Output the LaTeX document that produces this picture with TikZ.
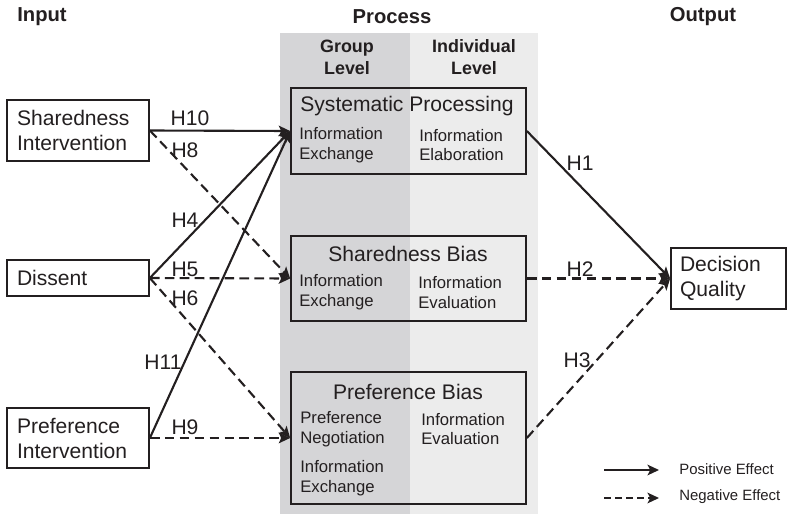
\documentclass[tikz,border=0pt]{standalone}
\usepackage{fontspec}
\setmainfont{Liberation Sans}
\usetikzlibrary{arrows.meta}
\definecolor{ink}{RGB}{35,31,32}
\definecolor{grpband}{RGB}{213,213,215}
\definecolor{indband}{RGB}{236,236,236}

\tikzset{
    ibox/.style={draw=ink, line width=1pt, text=ink, align=left, inner xsep=0.2cm, inner ysep=0pt,
        font=\fontsize{12}{14.2}\selectfont},
    pbox/.style={draw=ink, line width=1pt, inner sep=0pt},
    ttl/.style={text=ink, inner sep=0pt, font=\fontsize{12}{14.2}\selectfont},
    sub/.style={text=ink, anchor=west, align=left, inner sep=0pt, font=\fontsize{9.5}{11.3}\selectfont},
    hdr/.style={text=ink, inner sep=0pt, font=\fontsize{11.5}{13}\selectfont\bfseries},
    lvl/.style={text=ink, align=center, inner sep=0pt, font=\fontsize{10.2}{12.6}\selectfont\bfseries},
    hyp/.style={text=ink, inner sep=0pt, font=\fontsize{12}{14}\selectfont},
    lgd/.style={text=ink, anchor=west, inner sep=0pt, font=\fontsize{8.5}{10}\selectfont},
    posarr/.style={draw=ink, line width=1.2pt, -{Stealth[length=6.5pt,width=6pt,inset=1.5pt]}},
    negarr/.style={posarr, dash pattern=on 5.5pt off 3pt}
}

\begin{document}
\begin{tikzpicture}[x=0.02cm, y=-0.02cm]
    \useasboundingbox (0,0) rectangle (795,514);

    % Level bands
    \fill[grpband] (280,33) rectangle (410,514);
    \fill[indband] (410,33) rectangle (538,514);

    % Headings
    \node[hdr] (input) at (42,17) {Input};
    \node[hdr] (process) at (392,17) {Process};
    \node[hdr] (output) at (703,17) {Output};
    \node[lvl] (grp) at (347,57) {Group\\Level};
    \node[lvl] (ind) at (474,57) {Individual\\Level};

    % Input boxes
    \node[ibox, text width=2.44cm, minimum height=1.22cm] (si) at (78,130.5) {Sharedness\\Intervention};
    \node[ibox, text width=2.44cm, minimum height=0.72cm] (dis) at (78,278) {Dissent};
    \node[ibox, text width=2.44cm, minimum height=1.2cm] (pi) at (78,438) {Preference\\Intervention};

    % Process boxes
    \node[pbox, minimum width=4.7cm, minimum height=1.72cm] (sp) at (408.5,131) {};
    \node[pbox, minimum width=4.7cm, minimum height=1.7cm] (sb) at (408.5,278.5) {};
    \node[pbox, minimum width=4.7cm, minimum height=2.64cm] (pb) at (408.5,438) {};

    \node[ttl] (sptitle) at (407,106) {Systematic Processing};
    \node[sub] (spgrp) at (299,145) {Information\\Exchange};
    \node[sub] (spind) at (419,145) {Information\\Elaboration};

    \node[ttl] (sbtitle) at (408,254) {Sharedness Bias};
    \node[sub] (sbgrp) at (299,292.5) {Information\\Exchange};
    \node[sub] (sbind) at (418,292.5) {Information\\Evaluation};

    \node[ttl] (pbtitle) at (408,392) {Preference Bias};
    \node[sub] (pbgrp) at (300,429) {Preference\\Negotiation};
    \node[sub] (pbgrp2) at (300,478) {Information\\Exchange};
    \node[sub] (pbind) at (421,429) {Information\\Evaluation};

    % Output box
    \node[ibox, text width=1.94cm, inner xsep=0.18cm, minimum height=1.22cm] (dq) at (728.5,278.5) {Decision\\Quality};

    % Effects
    \foreach \a/\b in {si/sp, dis/sp, pi/sp, sp/dq}
        \draw[posarr] (\a.east) -- (\b.west);
    \foreach \a/\b in {si/sb, dis/sb, dis/pb, pi/pb, sb/dq, pb/dq}
        \draw[negarr] (\a.east) -- (\b.west);

    % Hypotheses
    \foreach \lab/\x/\y in {H10/190/118, H8/185/150, H4/185/220, H5/185/269, H6/185/298,
                            H11/163/362, H9/185/427, H1/580/163, H2/580/269, H3/577/360}
        \node[hyp] (\lab) at (\x,\y) {\lab};

    % Legend
    \coordinate (posa) at (604,470);
    \coordinate (posb) at (659,470);
    \coordinate (nega) at (604,498);
    \coordinate (negb) at (659,498);
    \draw[posarr] (posa) -- (posb);
    \draw[negarr, dash pattern=on 4pt off 2.3pt] (nega) -- (negb);
    \node[lgd] (postxt) at (679,469) {Positive Effect};
    \node[lgd] (negtxt) at (679,497) {Negative Effect};
\end{tikzpicture}
\end{document}
